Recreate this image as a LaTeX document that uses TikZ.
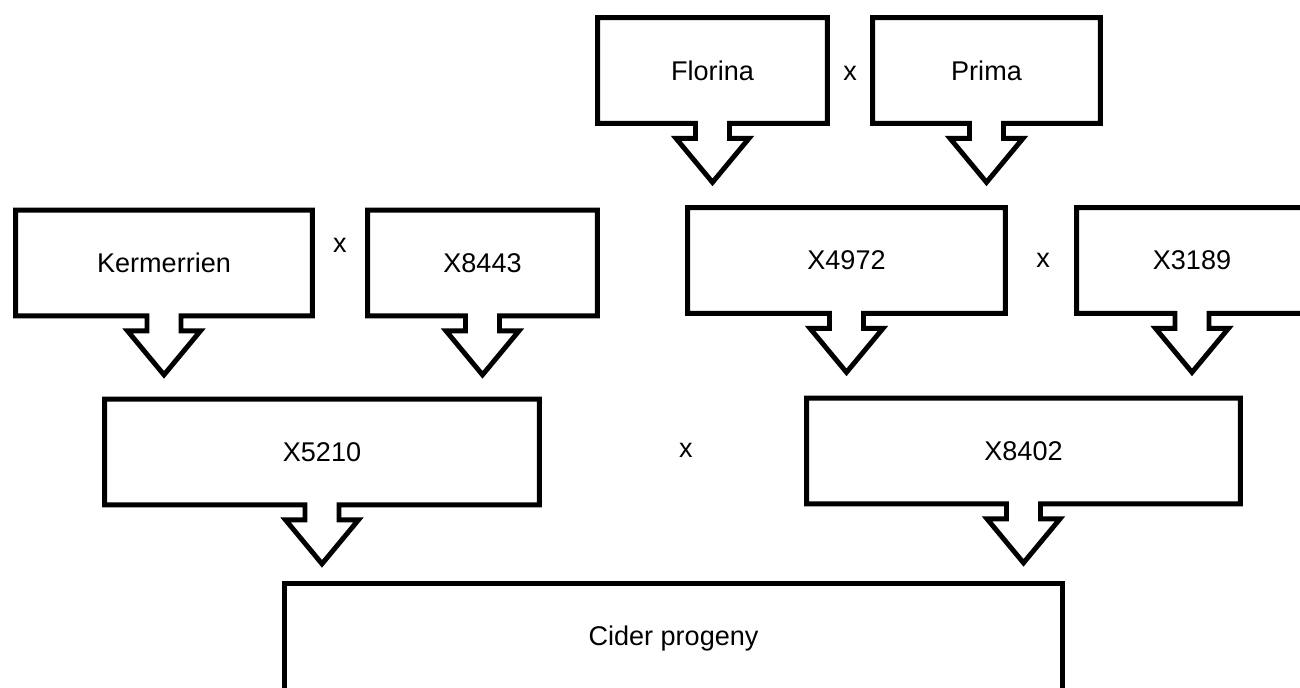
\documentclass[tikz,border=0pt]{standalone}
\usepackage{fontspec}
\setmainfont{Liberation Sans}
\usetikzlibrary{calc}

\tikzset{
  parent/.style={inner sep=0pt, minimum height=2.1cm, font=\fontsize{15.4}{18}\selectfont},
  crosslabel/.style={inner sep=0pt, font=\fontsize{15.4}{18}\selectfont},
  boxline/.style={line width=2.8pt, black}
}

% box with its arrow pointing down to the next generation
\newcommand{\pedbox}[1]{%
  \draw[boxline] (#1.south west) -- (#1.north west) -- (#1.north east) -- (#1.south east)
    -- ($(#1.south)+(17,0)$) -- ++(0,15) -- ++(19.5,0) -- ($(#1.south)+(0,59)$)
    -- ++(-36.5,-44) -- ++(19.5,0) -- ++(0,-15) -- cycle;}

\begin{document}
\begin{tikzpicture}[x=0.02cm, y=-0.02cm]
  \useasboundingbox (0,0) rectangle (1300,688);

  \node[parent, minimum width=4.58cm] (flo) at (712.5,70.5) {Florina};
  \node[parent, minimum width=4.54cm] (pri) at (986.5,70.5) {Prima};
  \node[parent, minimum width=5.92cm] (ker) at (164,263) {Kermerrien};
  \node[parent, minimum width=4.58cm] (x8443) at (482.5,263) {X8443};
  \node[parent, minimum width=6.34cm] (x4972) at (846.5,260.5) {X4972};
  \node[parent, minimum width=4.60cm] (x3189) at (1192,260.5) {X3189};
  \node[parent, minimum width=8.68cm] (x5210) at (322,452) {X5210};
  \node[parent, minimum width=8.66cm] (x8402) at (1023.5,451) {X8402};
  \node[parent, minimum width=15.54cm, minimum height=2.2cm] (cid) at (673.5,639) {Cider progeny};

  \node[crosslabel] (c1) at (850,73) {x};
  \node[crosslabel] (c2) at (340,245) {x};
  \node[crosslabel] (c3) at (1043,260) {x};
  \node[crosslabel] (c4) at (686,450) {x};

  \pedbox{flo}
  \pedbox{pri}
  \pedbox{ker}
  \pedbox{x8443}
  \pedbox{x4972}
  \pedbox{x3189}
  \pedbox{x5210}
  \pedbox{x8402}
  \draw[boxline] (cid.south west) -- (cid.north west) -- (cid.north east) -- (cid.south east) -- cycle;
\end{tikzpicture}
\end{document}
